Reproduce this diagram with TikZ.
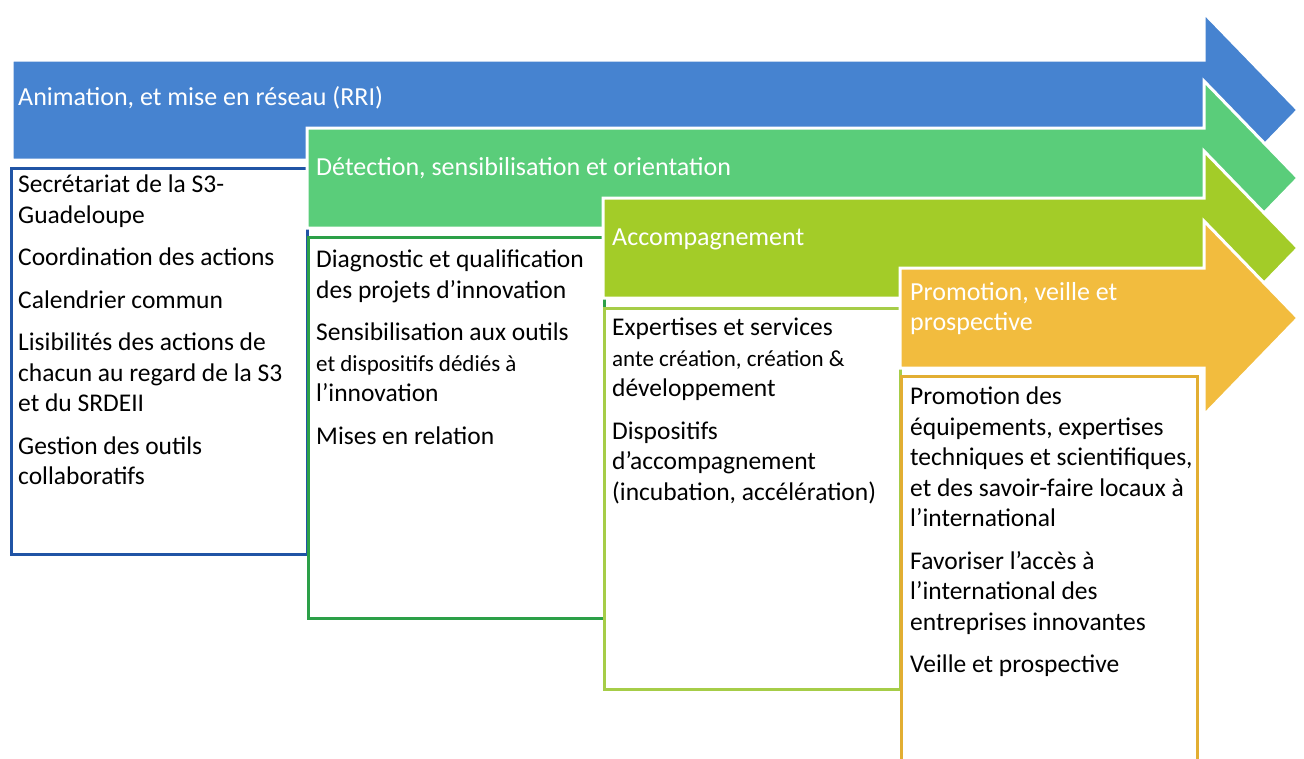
\documentclass[tikz,border=0pt]{standalone}
\usepackage{fontspec}
\setmainfont{Carlito}
\usepackage{xcolor}

\definecolor{animfill}{RGB}{70,131,208}
\definecolor{animline}{RGB}{32,84,165}
\definecolor{detfill}{RGB}{90,205,122}
\definecolor{detline}{RGB}{44,160,72}
\definecolor{accfill}{RGB}{163,204,40}
\definecolor{accline}{RGB}{166,205,72}
\definecolor{promfill}{RGB}{242,188,62}
\definecolor{promline}{RGB}{226,174,50}

% one stage arrow: left x, top y, colour
\newcommand{\stagearrow}[3]{%
  \filldraw[fill=#3, draw=white, line width=3] (#1,#2) -- (1204,#2) -- (1204,#2-47)
    -- (1298,#2+50) -- (1204,#2+147) -- (1204,#2+100) -- (#1,#2+100) -- cycle;}

\begin{document}
\begin{tikzpicture}[x=1pt,y=-1pt]
    \tikzstyle{head}=[anchor=west, align=left, inner sep=0pt, text=white, font=\fontsize{26}{30}\selectfont]
    \tikzstyle{card}=[anchor=north west, fill=white, line width=3, minimum width=296, minimum height=381, inner sep=0pt]
    \tikzstyle{items}=[anchor=north west, align=left, inner sep=0pt, font=\fontsize{25.5}{30.5}\selectfont]
    \useasboundingbox (0,0) rectangle (1304,758);
    \clip (0,0) rectangle (1304,758);
    % animation
    \stagearrow{12}{60}{animfill}
    \node[head] (animhead) at (18,98) {Animation, et mise en réseau (RRI)};
    \node[card, draw=animline, minimum height=386] (animbox) at (10,167) {};
    \node[items] (animtext) at (18,175) {Secrétariat de la S3-\\Guadeloupe\\[12pt]
      Coordination des actions\\[12pt]Calendrier commun\\[12pt]
      Lisibilités des actions de\\chacun au regard de la S3\\et du SRDEII\\[12pt]
      Gestion des outils\\collaboratifs};
    % detection
    \stagearrow{307}{128}{detfill}
    \node[head] (dethead) at (316,168) {Détection, sensibilisation et orientation};
    \node[card, draw=detline] (detbox) at (307,236) {};
    \node[items] (dettext) at (316,250) {Diagnostic et qualification\\des projets d'innovation\\[12pt]
      Sensibilisation aux outils\\{\fontsize{23}{30.5}\selectfont et dispositifs dédiés à}\\l'innovation\\[12pt]
      Mises en relation};
    % accompagnement
    \stagearrow{603}{198}{accfill}
    \node[head] (acchead) at (612,239) {Accompagnement};
    \node[card, draw=accline] (accbox) at (603,307) {};
    \node[items] (acctext) at (612,318) {Expertises et services\\{\fontsize{23}{30.5}\selectfont ante création, création \&}\\développement\\[12pt]
      Dispositifs\\d'accompagnement\\(incubation, accélération)};
    % promotion
    \stagearrow{900}{268}{promfill}
    \node[head] (promhead) at (910,309) {Promotion, veille et\\prospective};
    \node[card, draw=promline, minimum height=390] (prombox) at (900,375) {};
    \node[items] (promtext) at (910,387) {Promotion des\\équipements, expertises\\techniques et scientifiques,\\et des savoir-faire locaux à\\l'international\\[12pt]
      Favoriser l'accès à\\l'international des\\entreprises innovantes\\[12pt]
      Veille et prospective};
\end{tikzpicture}
\end{document}
